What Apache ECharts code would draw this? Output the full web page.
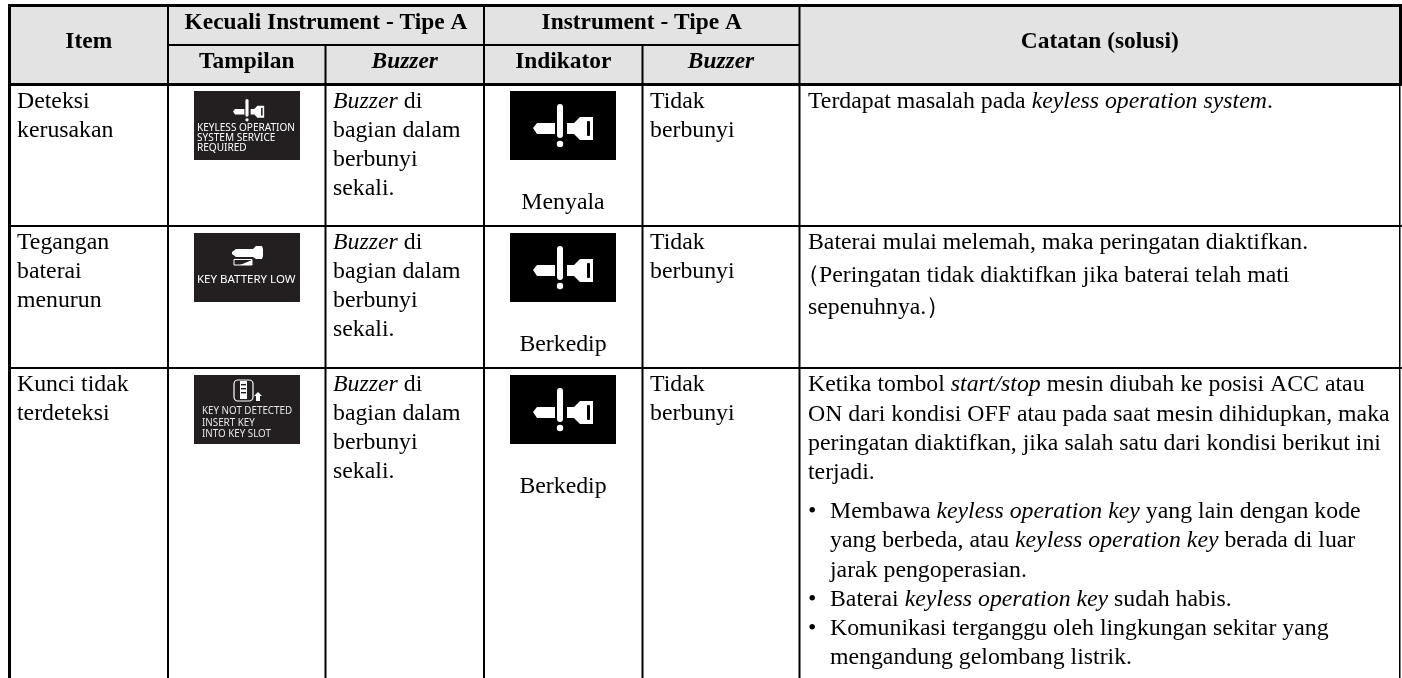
<!DOCTYPE html>
<html>
<head>
<meta charset="utf-8">
<style>
  html, body { margin: 0; padding: 0; background: #fff; }
  #main { width: 1402px; height: 678px; }
</style>
<script src="https://cdn.jsdelivr.net/npm/echarts@6/dist/echarts.min.js"></script>
</head>
<body>
<div id="main"></div>
<script>
// table text
const groupHeaders = ['Kecuali Instrument - Tipe A', 'Instrument - Tipe A']
const subHeaders = ['Tampilan', '{bi|Buzzer}', 'Indikator', '{bi|Buzzer}']
const itemHeader = 'Item'
const noteHeader = 'Catatan (solusi)'
const items = [
  ['Deteksi', 'kerusakan'],
  ['Tegangan', 'baterai', 'menurun'],
  ['Kunci tidak', 'terdeteksi']
]
const buzzerInner = ['{i|Buzzer} di', 'bagian dalam', 'berbunyi', 'sekali.']
const buzzerInstrument = ['Tidak', 'berbunyi']
const indicatorStates = ['Menyala', 'Berkedip', 'Berkedip']
const displayTexts = [
  ['KEYLESS OPERATION', 'SYSTEM SERVICE', 'REQUIRED'],
  ['KEY BATTERY LOW'],
  ['KEY NOT DETECTED', 'INSERT KEY', 'INTO KEY SLOT']
]
const notes = [
  ['Terdapat masalah pada {i|keyless operation system}.'],
  ['Baterai mulai melemah, maka peringatan diaktifkan.',
   'Peringatan tidak diaktifkan jika baterai telah mati',
   'sepenuhnya.）'],
  ['Ketika tombol {i|start/stop} mesin diubah ke posisi ACC atau',
   'ON dari kondisi OFF atau pada saat mesin dihidupkan, maka',
   'peringatan diaktifkan, jika salah satu dari kondisi berikut ini',
   'terjadi.']
]
const bullets = [
  ['Membawa {i|keyless operation key} yang lain dengan kode',
   'yang berbeda, atau {i|keyless operation key} berada di luar',
   'jarak pengoperasian.'],
  ['Baterai {i|keyless operation key} sudah habis.'],
  ['Komunikasi terganggu oleh lingkungan sekitar yang',
   'mengandung gelombang listrik.']
]

// layout of the table
const colX = [9.5, 168, 325.5, 484, 642.5, 799.5, 1400]
const rowTop = [102, 243, 385]
const lineGap = 29
const stateY = [203, 345, 487]
const serif = '"Liberation Serif", "Times New Roman", serif'
const bodySize = 23.8
const headSize = 23.4
const ink = '#000'

const rich = {
  i: { fontFamily: serif, fontSize: bodySize, fontStyle: 'italic', fill: ink },
  bi: { fontFamily: serif, fontSize: headSize, fontStyle: 'italic', fontWeight: 'bold', fill: ink }
}
const els = []
function box(x, y, w, h, fill) {
  els.push({ type: 'rect', silent: true, shape: { x, y, width: w, height: h }, style: { fill } })
}
function label(text, x, y, opt) {
  opt = opt || {}
  els.push({
    type: 'text', silent: true, x, y,
    style: {
      text, x: 0, y: 0, rich,
      fontFamily: serif, fontSize: opt.size || bodySize, fontWeight: opt.bold ? 'bold' : 'normal',
      fill: ink, align: opt.align || 'left', verticalAlign: 'middle'
    }
  })
}

// header background and rules
box(10, 6, 1390, 78, '#e3e3e3')
box(8, 4, 1394, 3, '#000')
box(8, 83, 1394, 3, '#000')
box(8, 4, 3, 674, '#000')
box(1399, 4, 3, 82, '#000')
box(1399, 86, 1.5, 592, '#000')
box(168, 44, 631, 2, '#000')
colX.slice(1, 6).forEach((x, i) => {
  const sub = i === 0 || i === 2 || i === 4
  box(x - 1, sub ? 4 : 44, 2, sub ? 674 : 634, '#000')
})
box(8, 225, 1394, 2, '#000')
box(8, 367, 1394, 2, '#000')

// headers
label(itemHeader, (colX[0] + colX[1]) / 2, 42, { size: headSize, bold: true, align: 'center' })
label(groupHeaders[0], (colX[1] + colX[3]) / 2, 23, { size: headSize, bold: true, align: 'center' })
label(groupHeaders[1], (colX[3] + colX[5]) / 2, 23, { size: headSize, bold: true, align: 'center' })
label(noteHeader, (colX[5] + colX[6]) / 2, 42, { size: headSize, bold: true, align: 'center' })
subHeaders.forEach((s, i) => {
  label(s, (colX[i + 1] + colX[i + 2]) / 2, 62, { size: headSize, bold: true, align: 'center' })
})

// the key symbol, x and y are the top of the exclamation bar
function keyShapes(scale) {
  return [
    { type: 'polygon', shape: { points: [[-27, 24], [-23, 19], [-5, 19], [-5, 30], [-23, 30]] }, style: { fill: '#fff' } },
    { type: 'rect', shape: { x: -3, y: 0, width: 6, height: 34, r: 3 }, style: { fill: '#fff' } },
    { type: 'circle', shape: { cx: 0, cy: 40, r: 3.2 }, style: { fill: '#fff' } },
    { type: 'polygon', shape: { points: [[7, 19], [14, 19], [20, 13], [33, 13], [33, 36], [20, 36], [14, 30], [7, 30]] }, style: { fill: '#fff' } },
    { type: 'rect', shape: { x: 27, y: 17, width: 3, height: 15, r: 1 }, style: { fill: scale === 1 ? '#000' : '#231f20' } }
  ]
}
function keyIcon(x, y, scale) {
  els.push({ type: 'group', silent: true, x, y, scaleX: scale, scaleY: scale, children: keyShapes(scale) })
}
function iconText(lines, x, ys, size, scaleX, color) {
  lines.forEach((t, i) => {
    els.push({
      type: 'text', silent: true, x, y: ys[i], scaleX,
      style: { text: t, x: 0, y: 0, fontFamily: '"Noto Sans", sans-serif', fontSize: size, fill: color, align: 'left', verticalAlign: 'middle' }
    })
  })
}

// display panels
const panelY = [91, 233, 375]
panelY.forEach(y => box(194, y, 106, 69, '#231f20'))
keyIcon(247, panelY[0] + 8, 0.52)
iconText(displayTexts[0], 197, [128, 138, 148], 11, 0.914, '#fff')

// battery key
els.push({ type: 'polygon', silent: true, shape: { points: [[232, 252], [236, 249], [253, 249], [256, 246], [262, 246], [263, 249], [263, 256], [262, 259], [256, 259], [253, 257], [236, 257], [232, 254]] }, style: { fill: '#fff' } })
els.push({ type: 'rect', silent: true, shape: { x: 234, y: 259.5, width: 18, height: 5.5 }, style: { fill: 'none', stroke: '#fff', lineWidth: 1 } })
els.push({ type: 'polygon', silent: true, shape: { points: [[240, 265], [252, 260], [252, 265]] }, style: { fill: '#fff' } })
iconText(displayTexts[1], 197, [280], 11.5, 1.0, '#fff')

// key fob with arrow
els.push({ type: 'rect', silent: true, shape: { x: 234, y: 380, width: 19, height: 21, r: 4 }, style: { fill: 'none', stroke: '#fff', lineWidth: 1.2 } })
els.push({ type: 'rect', silent: true, shape: { x: 240, y: 381, width: 7, height: 18 }, style: { fill: '#fff' } })
;[384, 388, 392].forEach(y => els.push({ type: 'rect', silent: true, shape: { x: 241, y, width: 5, height: 1.4 }, style: { fill: '#231f20' } }))
els.push({ type: 'polygon', silent: true, shape: { points: [[254, 396], [258, 392], [262, 396], [260, 396], [260, 401], [256, 401], [256, 396]] }, style: { fill: '#fff' } })
iconText(displayTexts[2], 202, [411, 423, 434], 11, 0.89, '#e8e8e8')

// indicator panels
panelY.forEach(y => {
  box(510, y, 106, 69, '#000')
  keyIcon(560, y + 13, 1)
})

// body rows
items.forEach((lines, r) => {
  lines.forEach((t, i) => label(t, 17, rowTop[r] + i * lineGap))
  buzzerInner.forEach((t, i) => label(t, 333, rowTop[r] + i * lineGap))
  buzzerInstrument.forEach((t, i) => label(t, 650, rowTop[r] + i * lineGap))
  label(indicatorStates[r], 563, stateY[r], { align: 'center' })
})
notes.forEach((lines, r) => {
  lines.forEach((t, i) => {
    const parenLine = r === 1 && i === 1
    if (parenLine) label('（', 796, rowTop[r] + i * 32.5)
    label(t, parenLine ? 819 : 808, rowTop[r] + i * (r === 1 ? 32.5 : 29.3))
  })
})
const bulletTop = 512
let n = 0
bullets.forEach(lines => {
  label('•', 808, bulletTop + n * 29.2)
  lines.forEach(t => {
    label(t, 830, bulletTop + n * 29.2)
    n++
  })
})

const chart = echarts.init(document.getElementById('main'), null, { renderer: 'canvas' })
chart.setOption({
  animation: false,
  backgroundColor: '#fff',
  graphic: { elements: els }
})
</script>
</body>
</html>
